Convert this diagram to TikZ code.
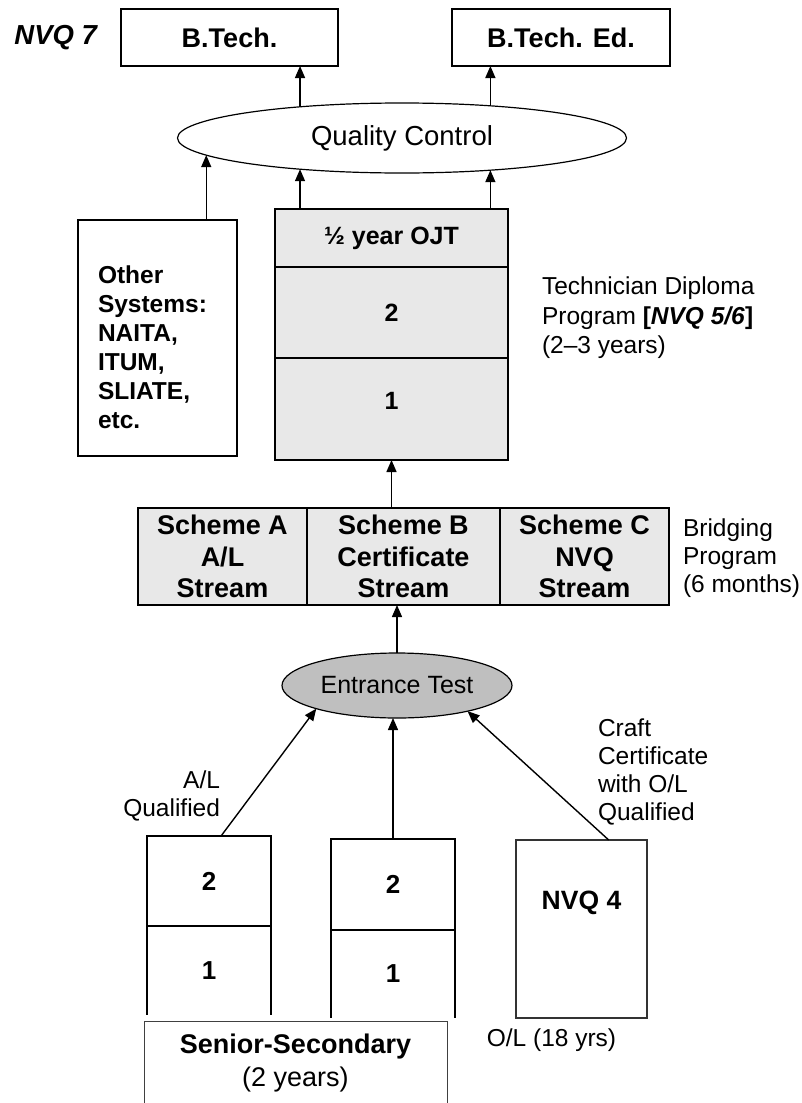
\documentclass[tikz,border=0pt]{standalone}
\usepackage{fontspec}
\setmainfont{Liberation Sans}
\usetikzlibrary{shapes.geometric, positioning, arrows.meta}

\begin{document}
\begin{tikzpicture}[x=1pt,y=1pt,inner sep=0pt,outer sep=0pt,>={Triangle[length=12pt,width=10pt]}]

			\tikzstyle{every node}=[font=\fontsize{24.5}{28}\selectfont]
			
			\tikzstyle{top box}=[rectangle,draw,line width=1.3pt,minimum height=57pt,font=\bfseries\fontsize{27}{31}\selectfont]
			\tikzstyle{grey cell}=[rectangle,draw,line width=1.7pt,fill=gray!18,align=center,font=\bfseries\fontsize{25}{29}\selectfont]
			\tikzstyle{scheme cell}=[grey cell,minimum height=97pt,font=\bfseries\fontsize{27}{31.5}\selectfont]
			\tikzstyle{year cell}=[rectangle,draw,line width=1.6pt,minimum width=124pt,font=\bfseries\fontsize{26}{30}\selectfont]
			\tikzstyle{oval}=[ellipse,draw,line width=1.2pt]
			\tikzstyle{conn}=[->,line width=1.4pt]
			
			\useasboundingbox (0,0) rectangle (802,-1103);
			
			% degrees and quality control
			\node[oval,minimum width=449pt,minimum height=70pt,font=\fontsize{27.5}{32}\selectfont] (QC) at (402,-138) {Quality Control};
			\node[top box,minimum width=217pt] (BT) at (229.5,-37.5) {B.Tech.};
			\node[top box,minimum width=218pt] (BTE) [right=114pt of BT] {B.Tech. Ed.};
			\node[font=\bfseries\itshape\fontsize{27.5}{32}\selectfont] (NVQ7) [left=24pt of BT] {NVQ 7};
			
			% other systems
			\node[rectangle,draw,line width=1.5pt,minimum width=159pt,minimum height=236pt] (Other) at (157.5,-338) {};
			\node[anchor=west,align=left,font=\bfseries\fontsize{24.5}{29}\selectfont] (OtherTxt) at ([xshift=20pt,yshift=-9.5pt]Other.west) {Other\\Systems:\\NAITA,\\ITUM,\\SLIATE,\\etc.};
			
			% technician diploma
			\node[grey cell,minimum width=233pt,minimum height=58pt] (OJT) at (391.5,-238) {½ year OJT};
			\node[grey cell,minimum width=233pt,minimum height=91pt] (Tech2) [below=0pt of OJT] {2};
			\node[grey cell,minimum width=233pt,minimum height=102pt,text height=18pt,text depth=18pt] (Tech1) [below=0pt of Tech2] {1};
			\node[anchor=west,align=left,font=\fontsize{24.5}{29.5}\selectfont] (TechTxt) at (542,-318) {Technician Diploma\\Program \textbf{[\textit{NVQ 5/6}]}\\(2–3 years)};
			
			% bridging program
			\node[scheme cell,minimum width=169pt] (SchA) at (222.5,-556.5) {Scheme A\\A/L\\Stream};
			\node[scheme cell,minimum width=193pt] (SchB) [right=0pt of SchA] {Scheme B\\Certificate\\Stream};
			\node[scheme cell,minimum width=169pt] (SchC) [right=0pt of SchB] {Scheme C\\NVQ\\Stream};
			\node[anchor=west,align=left] (BridgeTxt) at (683,-558) {Bridging\\Program\\(6 months)};
			
			\node[oval,fill=gray!50,minimum width=230pt,minimum height=65pt,font=\fontsize{25}{29}\selectfont] (ET) at (397,-685.5) {Entrance Test};
			
			% entry routes
			\node[year cell,minimum height=90pt] (AL2) at (209,-881) {2};
			\node[year cell,draw=none,minimum height=89pt] (AL1) [below=0pt of AL2] {1};
			\node[year cell,minimum height=91pt] (CC2) at (393,-884.5) {2};
			\node[year cell,draw=none,minimum height=88pt] (CC1) [below=0pt of CC2] {1};
			\draw[line width=1.6pt] (AL1.north west) -- (AL1.south west) (AL1.north east) -- (AL1.south east)
			(CC1.north west) -- (CC1.south west) (CC1.north east) -- (CC1.south east);
			
			\node[rectangle,draw=black!80,line width=1.3pt,minimum width=131pt,minimum height=178pt,text height=19pt,text depth=58pt,font=\bfseries\fontsize{26.5}{31}\selectfont] (NVQ4) at (581.5,-929) {NVQ 4};
			\node[rectangle,draw=black!75,line width=1pt,minimum width=303pt,minimum height=85pt,align=center,font=\fontsize{27}{33}\selectfont] (SenSec) at (295.5,-1063.5) {\textbf{Senior-Secondary}\\(2 years)};
			
			\node[anchor=east,align=right] (ALq) at (220,-796) {A/L\\Qualified};
			\node[anchor=west,align=left] (Craftq) at (598,-771.5) {Craft\\Certificate\\with O/L\\Qualified};
			\node (OL) at (551.5,-1040) {O/L (18 yrs)};
			
			\path[conn] (QC.163) edge (QC.163 |- BT.south)
			(QC.20) edge (QC.20 |- BTE.south)
			(OJT.north -| QC.197) edge (QC.197)
			(OJT.north -| QC.340) edge (QC.340)
			(Other.north -| QC.185) edge (QC.185)
			(SchB.north -| Tech1.south) edge (Tech1.south)
			(ET.north) edge (ET.north |- SchB.south)
			(AL2.75) edge (ET.196)
			(CC2.north) edge (CC2.north |- ET.south)
			(NVQ4.73) edge (ET.340);
			
		\end{tikzpicture}
\end{document}
